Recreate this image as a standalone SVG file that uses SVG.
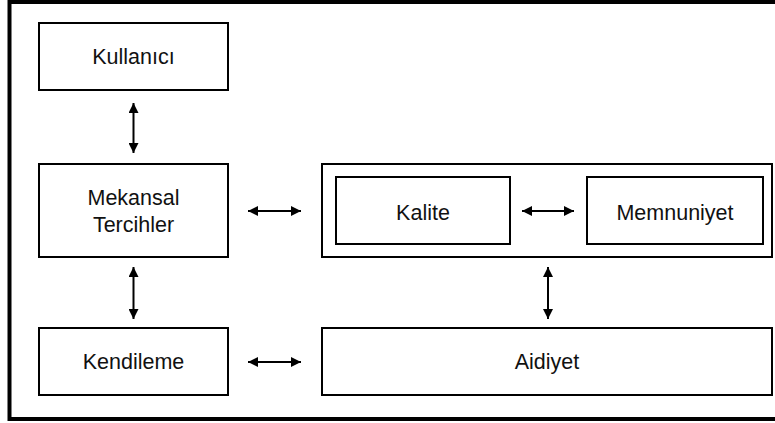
<svg xmlns="http://www.w3.org/2000/svg" width="775" height="423" viewBox="0 0 775 423">
  <defs>
    <marker id="head" viewBox="0 0 10 10" refX="10" refY="5" markerWidth="10" markerHeight="10" markerUnits="userSpaceOnUse" orient="auto-start-reverse">
      <path d="M0,0 L10,5 L0,10 Z" fill="#000"/>
    </marker>
    <style>
      .box { fill: #fff; stroke: #000; stroke-width: 2; }
      .frame { fill: #fff; stroke: #000; stroke-width: 4; }
      .lbl { font-family: "Liberation Sans", Arial, Helvetica, sans-serif; font-size: 21.5px; fill: #111; text-anchor: middle; }
      .link { stroke: #000; stroke-width: 2; fill: none; marker-start: url(#head); marker-end: url(#head); }
    </style>
  </defs>

  <!-- outer frame -->
  <rect class="frame" x="9.5" y="2" width="780" height="417"/>

  <g id="kullanici">
    <rect class="box" x="39" y="23" width="189" height="67"/>
    <text class="lbl" x="133.5" y="64">Kullanıcı</text>
  </g>

  <g id="mekansal-tercihler">
    <rect class="box" x="39" y="164" width="189" height="93"/>
    <text class="lbl" x="133.5" y="205">Mekansal</text>
    <text class="lbl" x="133.5" y="231.5">Tercihler</text>
  </g>

  <g id="kendileme">
    <rect class="box" x="39" y="328" width="189" height="67"/>
    <text class="lbl" x="133.5" y="369">Kendileme</text>
  </g>

  <g id="kalite-memnuniyet">
    <rect class="box" x="322" y="164" width="450" height="93"/>
  </g>

  <g id="kalite">
    <rect class="box" x="336" y="177" width="174" height="67"/>
    <text class="lbl" x="423" y="220">Kalite</text>
  </g>

  <g id="memnuniyet">
    <rect class="box" x="587" y="177" width="176" height="67"/>
    <text class="lbl" x="675" y="220">Memnuniyet</text>
  </g>

  <g id="aidiyet">
    <rect class="box" x="322" y="328" width="450" height="67"/>
    <text class="lbl" x="547" y="369">Aidiyet</text>
  </g>

  <g id="connectors">
    <line class="link" x1="133.5" y1="103" x2="133.5" y2="153"/>
    <line class="link" x1="133.5" y1="267" x2="133.5" y2="319"/>
    <line class="link" x1="248" y1="211" x2="301" y2="211"/>
    <line class="link" x1="522" y1="211" x2="574" y2="211"/>
    <line class="link" x1="548" y1="267" x2="548" y2="319"/>
    <line class="link" x1="248" y1="362" x2="301" y2="362"/>
  </g>
</svg>
